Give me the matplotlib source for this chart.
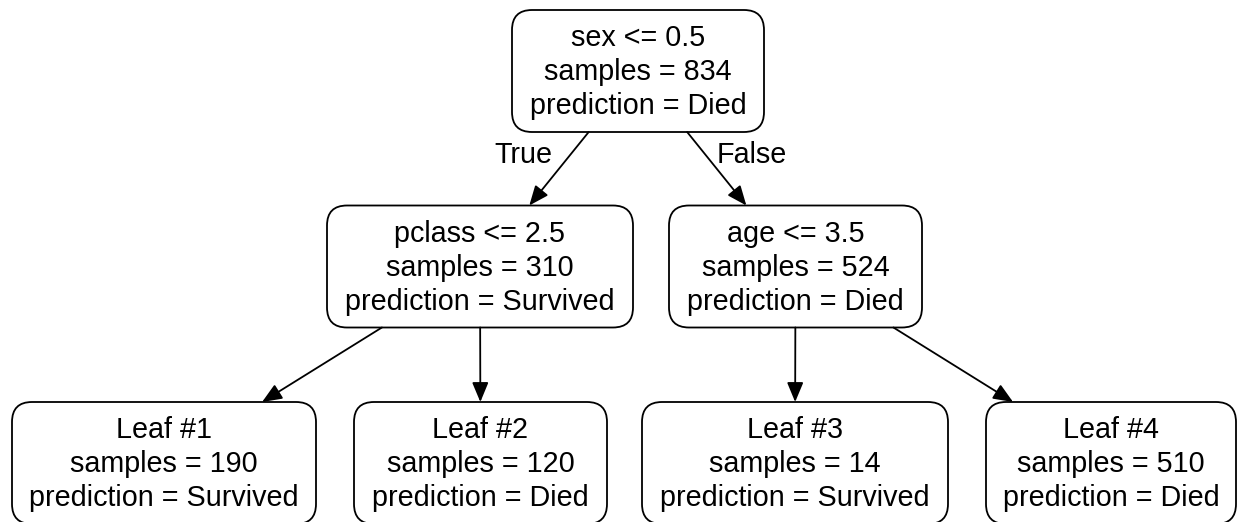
import matplotlib
matplotlib.use("Agg")
import matplotlib.pyplot as plt
from matplotlib.patches import FancyBboxPatch, FancyArrowPatch

plt.rcParams["font.family"] = ["Liberation Sans", "DejaVu Sans"]

# Tree content
node_ids = ["root", "left", "right", "leaf1", "leaf2", "leaf3", "leaf4"]
node_titles = ["sex <= 0.5", "pclass <= 2.5", "age <= 3.5",
               "Leaf #1", "Leaf #2", "Leaf #3", "Leaf #4"]
node_samples = [834, 310, 524, 190, 120, 14, 510]
node_predictions = ["Died", "Survived", "Died",
                    "Survived", "Died", "Survived", "Died"]
edges = [("root", "left"), ("root", "right"),
         ("left", "leaf1"), ("left", "leaf2"),
         ("right", "leaf3"), ("right", "leaf4")]
edge_labels = {("root", "left"): "True", ("root", "right"): "False"}

# Layout (pixel space): center x, center y, box width
layout = {
    "root": (638, 71, 252),
    "left": (480, 266.5, 306),
    "right": (795.5, 266.5, 253),
    "leaf1": (164, 463, 304),
    "leaf2": (480.5, 463, 253),
    "leaf3": (795, 463, 306),
    "leaf4": (1111, 463, 250),
}
box_h = 122
label_pos = {("root", "left"): (523, 163), ("root", "right"): (752, 163)}

fig = plt.figure(figsize=(12.38, 5.22), dpi=100)
ax = fig.add_axes([0, 0, 1, 1])
ax.set_xlim(0, 1238)
ax.set_ylim(522, 0)
ax.axis("off")

fs = 20.7
for nid, title, n, pred in zip(node_ids, node_titles, node_samples, node_predictions):
    cx, cy, w = layout[nid]
    box = FancyBboxPatch((cx - w / 2, cy - box_h / 2), w, box_h,
                         boxstyle="round,pad=0,rounding_size=20",
                         facecolor="white", edgecolor="black", linewidth=1.3)
    ax.add_patch(box)
    lines = [title, f"samples = {n}", f"prediction = {pred}"]
    for dy, line in zip([-25, 9, 43], lines):
        ax.text(cx, cy + dy, line, ha="center", va="baseline",
                fontsize=fs, color="black")

for a, b in edges:
    x1, y1, _ = layout[a]
    x2, y2, _ = layout[b]
    half = box_h / 2
    t1 = half / (y2 - y1)
    t2 = 1 - half / (y2 - y1)
    start = (x1 + (x2 - x1) * t1, y1 + (y2 - y1) * t1)
    end = (x1 + (x2 - x1) * t2, y1 + (y2 - y1) * t2)
    arr = FancyArrowPatch(start, end, arrowstyle="-|>,head_length=12,head_width=5",
                          mutation_scale=1, shrinkA=0, shrinkB=0,
                          color="black", linewidth=1.3)
    ax.add_patch(arr)
    if (a, b) in edge_labels:
        lx, ly = label_pos[(a, b)]
        ax.text(lx, ly, edge_labels[(a, b)], ha="center", va="baseline",
                fontsize=fs, color="black")

fig.savefig("out.png", dpi=100)
